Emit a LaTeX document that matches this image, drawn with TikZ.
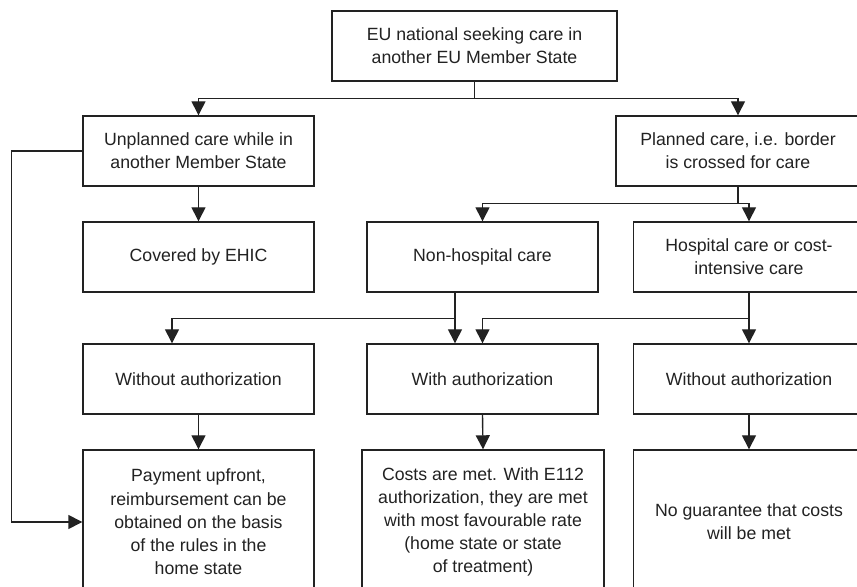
\documentclass[tikz,border=0pt]{standalone}
\usepackage{fontspec}
\setmainfont{Liberation Sans}
\usepackage{xcolor}
\usepackage{tikz}
\usetikzlibrary{arrows.meta,positioning}
\definecolor{ink}{HTML}{222222}
\tikzset{
  box/.style={draw=ink,fill=white,line width=0.7pt,align=center,inner sep=0pt,text=ink,minimum height=35pt,font=\fontsize{8.85}{11.6}\selectfont},
  boxn/.style={box,minimum width=115.5pt},
  boxw/.style={box,minimum width=122pt},
  boxt/.style={box,minimum height=72pt},
  arr/.style={-{Triangle[length=7pt,width=7pt]},line width=0.7pt,draw=ink},
}
\begin{document}
\begin{tikzpicture}[x=0.5pt,y=-0.5pt]
\useasboundingbox (0,0) rectangle (857,587);
\clip (0,0) rectangle (857,587);
% level 0 and 1
\node[box,minimum width=142.5pt] (top) at (474.5,46) {EU national seeking care in\\another EU Member State};
\node[boxn] (unpl) at (198.5,151) {Unplanned care while in\\another Member State};
\node[boxw] (plan) at (738,151) {Planned care, i.e. border\\is crossed for care};
% level 2
\node[boxn] (cov) at (198.5,257) {Covered by EHIC};
\node[boxn] (nonh) at (482.5,257) {Non-hospital care};
\node[boxn] (hosp) at (749,257) {Hospital care or cost-\\intensive care};
% level 3
\node[boxn] (wo1) at (198.5,379) {Without authorization};
\node[boxn] (wa) at (482.5,379) {With authorization};
\node[boxn] (wo2) at (749,379) {Without authorization};
% outcomes (cut off at the bottom)
\node[boxn,boxt] (pay) at (198.5,522) {Payment upfront,\\reimbursement can be\\obtained on the basis\\of the rules in the\\home state};
\node[box,boxt,minimum width=121pt] (cost) at (483,522) {Costs are met. With E112\\authorization, they are met\\with most favourable rate\\(home state or state\\of treatment)};
\node[boxn,boxt] (nog) at (749,522) {No guarantee that costs\\will be met};
% connectors
\draw[arr](top.south)--++(0,17)-|(unpl.north);\draw[arr](top.south)--++(0,17)-|(plan.north);
\draw[arr](unpl.south)--(cov.north);
\draw[arr](plan.south)--++(0,17)-|(nonh.north);\draw[arr](plan.south)--++(0,17)-|(hosp.north);
\draw[arr]([xshift=-13.75pt]nonh.south)--++(0,26)-|([xshift=-13.25pt]wo1.north);\draw[arr]([xshift=-13.75pt]nonh.south)--([xshift=-13.75pt]wa.north);
\draw[arr](hosp.south)--++(0,26)-|(wa.north);\draw[arr](hosp.south)--(wo2.north);
\draw[arr](wo1.south)--(pay.north);\draw[arr](wa.south)--(cost.north);\draw[arr](wo2.south)--(nog.north);
\draw[arr](unpl.west)--++(-71,0)|-(pay.west);
\end{tikzpicture}
\end{document}
